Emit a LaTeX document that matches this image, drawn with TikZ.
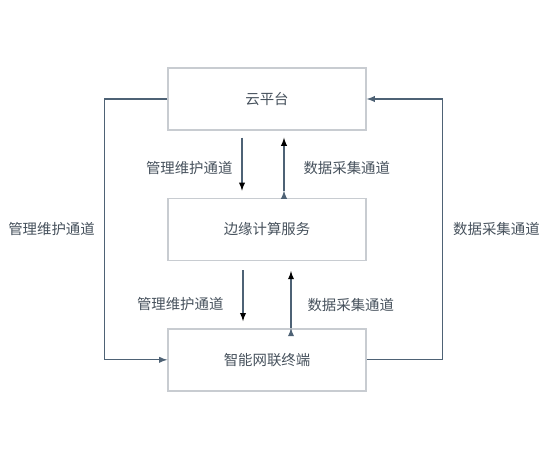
\documentclass[tikz,border=0pt]{standalone}
\usepackage{fontspec}
\setmainfont{Noto Sans CJK SC}
\usepackage{tikz}
\usetikzlibrary{positioning}
\definecolor{boxline}{HTML}{C8CCD1}
\definecolor{linkline}{HTML}{4E6275}
\definecolor{labeltext}{HTML}{46515C}
\tikzstyle{layer} = [rectangle,draw=boxline,line width=0.8pt,minimum width=3.96cm,minimum height=1.24cm,text=labeltext]
\tikzstyle{chan} = [text=labeltext,inner sep=0pt]

\begin{document}
\begin{tikzpicture}[font=\fontsize{8.2}{10}\selectfont,node distance=1.34cm]
	\useasboundingbox (0,0) rectangle (11,-9.2);

	\tikzstyle{arrow}=[->,>=latex,draw=linkline,line width=0.6pt];

	\node (1) [layer] at (5.34,-1.98) {云平台};
	\node (2) [layer,below=of 1] {边缘计算服务};
	\node (3) [layer,below=of 2] {智能网联终端};

	\path[arrow]
		([xshift=-0.5cm,yshift=-0.14cm]1.south) edge node[chan,left=0.18cm,yshift=-0.07cm] {管理维护通道} ([xshift=-0.5cm,yshift=0.14cm]2.north)
		([xshift=0.34cm,yshift=0.14cm]2.north) edge node[chan,right=0.38cm,yshift=-0.07cm] {数据采集通道} ([xshift=0.34cm,yshift=-0.14cm]1.south);
	\path[arrow]
		([xshift=-0.48cm,yshift=-0.18cm]2.south) edge node[chan,left=0.38cm,yshift=-0.16cm] {管理维护通道} ([xshift=-0.48cm,yshift=0.14cm]3.north)
		([xshift=0.48cm]3.north) edge node[chan,right=0.32cm,yshift=-0.1cm] {数据采集通道} ([xshift=0.48cm,yshift=-0.2cm]2.south);

	\draw[arrow] (1.west) -- ++(-1.26,0) |- node[chan,pos=0.25,left=0.18cm] {管理维护通道} (3.west);
	\draw[arrow] (3.east) -- ++(1.52,0) |- node[chan,pos=0.25,right=0.2cm] {数据采集通道} (1.east);
\end{tikzpicture}
\end{document}
